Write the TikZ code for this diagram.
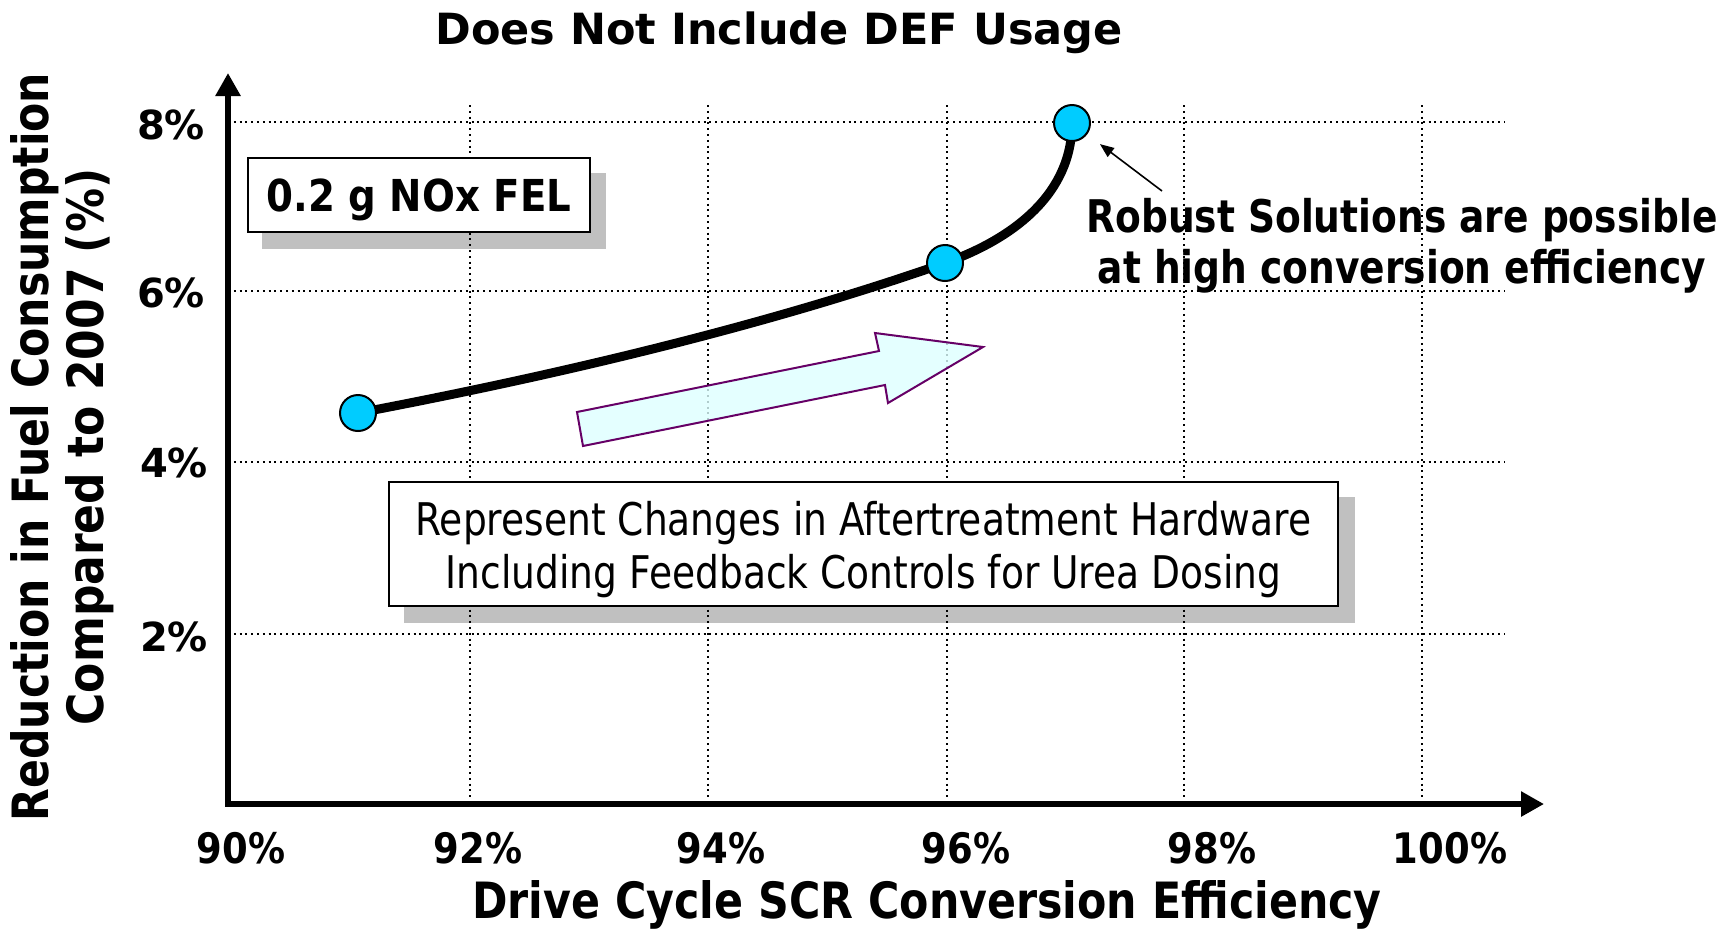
\documentclass[tikz,border=0pt]{standalone}
\usepackage{fontspec}
\setmainfont{DejaVu Sans}
\usepackage{graphicx}
\usetikzlibrary{arrows.meta}
\definecolor{ptcyan}{HTML}{00CCFF}
\definecolor{arrfill}{HTML}{DDFFFF}
\definecolor{arrdraw}{HTML}{660066}
\definecolor{shadowgray}{HTML}{C0C0C0}
\pgfdeclarelayer{shadowlayer}
\pgfdeclarelayer{gridlayer}
\pgfdeclarelayer{curvelayer}
\pgfsetlayers{shadowlayer,gridlayer,curvelayer,main}
\newcommand{\condtext}[2][0.84]{\scalebox{#1}[1]{#2}}
\begin{document}
\begin{tikzpicture}[x=0.5pt,y=-0.5pt,
  gridline/.style={line width=1pt,dash pattern=on 1pt off 1.9pt},
  axisline/.style={line width=3pt,line join=miter,{Triangle[length=11.5pt,width=12pt]}-{Triangle[length=11.5pt,width=12pt]}},
  ptnode/.style={circle,draw=black,line width=1pt,fill=ptcyan,minimum size=18pt,inner sep=0pt},
  curveline/.style={line width=4.5pt,line cap=round},
  labelbox/.style={draw=black,line width=1pt,fill=white,inner sep=0pt},
  ytick/.style={font=\fontsize{20pt}{24pt}\selectfont\bfseries,inner sep=0pt,anchor=base},
  xtick/.style={font=\fontsize{21pt}{25pt}\selectfont\bfseries,inner sep=0pt,anchor=base},
  bigarrow/.style={draw=arrdraw,line width=1pt,fill=arrfill,fill opacity=0.8,line join=miter},
  annarrow/.style={line width=0.8pt,-{Triangle[length=7pt,width=5.5pt]},shorten >=8pt},
  shadowfill/.style={fill=shadowgray}
]
\useasboundingbox (0,0) rectangle (1735,934);

% title
\node[font=\fontsize{21.5pt}{26pt}\selectfont\bfseries,inner sep=0pt,anchor=base] (title) at (779,44) {Does Not Include DEF Usage};

% axes
\coordinate (origin) at (228,804);
\coordinate (ytop) at (228,73);
\coordinate (xend) at (1544,804);

% grid
\begin{pgfonlayer}{gridlayer}
\foreach \gx in {470,708,947,1184,1422}{
  \draw[gridline] (\gx,105) -- (\gx,804);
}
\foreach \gy in {122,291,462,634}{
  \draw[gridline] (228,\gy) -- (1505,\gy);
}
\end{pgfonlayer}

\draw[axisline] (ytop) -- (origin) -- (xend);

% tick labels
\node[ytick] (y8) at (171,139) {8\%};
\node[ytick] (y6) at (171,307) {6\%};
\node[ytick] (y4) at (174,477) {4\%};
\node[ytick] (y2) at (174,651) {2\%};

\node[xtick] (x90) at (241,863) {\condtext[0.88]{90\%}};
\node[xtick] (x92) at (478,863) {\condtext[0.88]{92\%}};
\node[xtick] (x94) at (721,863) {\condtext[0.88]{94\%}};
\node[xtick] (x96) at (966,863) {\condtext[0.88]{96\%}};
\node[xtick] (x98) at (1212,863) {\condtext[0.88]{98\%}};
\node[xtick] (x100) at (1450,863) {\condtext[0.88]{100\%}};

% axis titles
\node[font=\fontsize{25pt}{30pt}\selectfont\bfseries,inner sep=0pt,anchor=base] (xtitle) at (927,918) {\condtext[0.855]{Drive Cycle SCR Conversion Efficiency}};
\node[rotate=90,font=\fontsize{25pt}{27.5pt}\selectfont\bfseries,inner sep=0pt,align=center] (ytitle) at (62,447) {\condtext[0.852]{Reduction in Fuel Consumption}\\\condtext[0.88]{Compared to 2007 (\%)}};

% boxes
\node[labelbox,minimum width=171pt,minimum height=37pt,text depth=0pt,font=\fontsize{22pt}{26pt}\selectfont\bfseries] (fel) at (419,195) {\condtext[0.88]{0.2 g NOx FEL}};
\node[labelbox,minimum width=474.5pt,minimum height=62pt] (rep) at (863.5,544) {};
\node[align=center,inner sep=0pt,font=\fontsize{22.5pt}{26.5pt}\selectfont] (reptext) at ([yshift=-2.8pt]rep.center) {\condtext[0.835]{Represent Changes in Aftertreatment Hardware}\\\condtext[0.835]{Including Feedback Controls for Urea Dosing}};

\begin{pgfonlayer}{shadowlayer}
\fill[shadowfill] ([shift={(15,16)}]fel.north west) rectangle ([shift={(15,16)}]fel.south east);
\fill[shadowfill] ([shift={(16,16)}]rep.north west) rectangle ([shift={(16,16)}]rep.south east);
\end{pgfonlayer}

% big arrow
\draw[bigarrow] (583,446) -- (577,412) -- (879,351) -- (875,333) -- (983,347) -- (888,403) -- (885,385) -- cycle;

% data points and curve
\node[ptnode] (p1) at (358,413) {};
\node[ptnode] (p2) at (945,263) {};
\node[ptnode] (p3) at (1072,123) {};
\begin{pgfonlayer}{curvelayer}
\draw[curveline] (p1.center) .. controls (558,375) and (765,326) .. (p2.center)
  .. controls (1015,238) and (1072,193) .. (p3.center);
\end{pgfonlayer}

% annotation
\node[font=\fontsize{22.5pt}{25.5pt}\selectfont\bfseries,align=center,inner sep=0pt] (robust) at (1402,246) {\condtext[0.835]{Robust Solutions are possible}\\\condtext[0.835]{at high conversion efficiency}};
\coordinate (annstart) at (1162,191);
\draw[annarrow] (annstart) -- (p3);
\end{tikzpicture}
\end{document}
